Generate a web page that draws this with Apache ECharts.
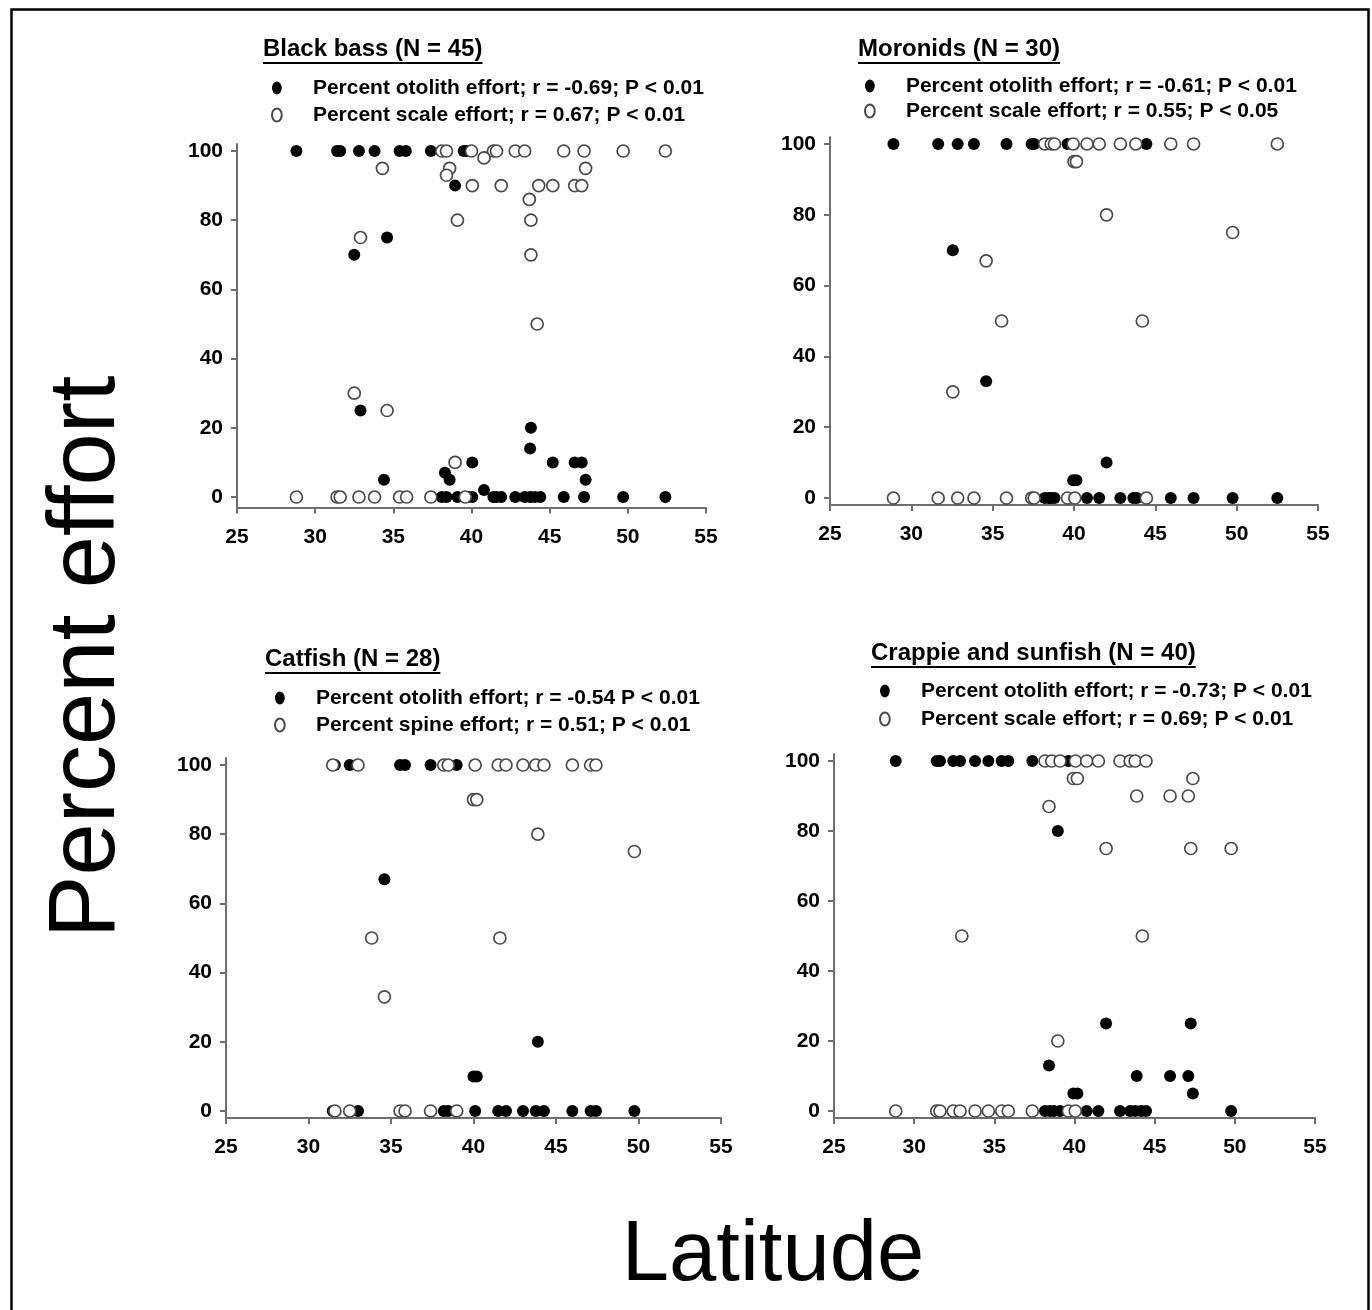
<!DOCTYPE html>
<html>
<head>
<meta charset="utf-8">
<script src="https://cdn.jsdelivr.net/npm/echarts@6/dist/echarts.min.js"></script>
<style>
html,body{margin:0;padding:0;background:#fff;}
#chart{width:1372px;height:1310px;}
</style>
</head>
<body>
<div id="chart"></div>
<script>
// ---------- DATA (latitude, percent effort) ----------
const yTickValues = [0, 20, 40, 60, 80, 100];

const bassTitle = 'Black bass (N = 45)';
const bassOtolithName = 'Percent otolith effort; r = -0.69; P < 0.01';
const bassScaleName = 'Percent scale effort; r = 0.67; P < 0.01';
const bassOtolith = [
  [28.8,100],[31.4,100],[31.6,100],[32.8,100],[33.8,100],[35.4,100],[35.8,100],[37.4,100],[39.5,100],[39.7,100],
  [38.95,90],[34.6,75],[32.5,70],[32.9,25],[43.8,20],[43.75,14],
  [40.05,10],[45.2,10],[46.6,10],[47.05,10],
  [38.3,7],[38.6,5],[34.4,5],[47.3,5],[40.8,2],
  [38.1,0],[38.4,0],[39.1,0],[39.8,0],[40.05,0],[41.4,0],[41.6,0],[41.9,0],[42.8,0],[43.4,0],[43.75,0],[44.05,0],[44.4,0],[45.9,0],[47.2,0],[49.7,0],[52.4,0]
];
const bassScale = [
  [38.1,100],[38.4,100],[40.0,100],[41.4,100],[41.6,100],[42.8,100],[43.4,100],[45.9,100],[47.2,100],[49.7,100],[52.4,100],
  [40.8,98],[34.3,95],[38.6,95],[47.3,95],[38.4,93],
  [40.05,90],[41.9,90],[44.3,90],[45.2,90],[46.6,90],[47.05,90],
  [43.7,86],[39.1,80],[43.8,80],[32.9,75],[43.8,70],[44.2,50],[32.5,30],[34.6,25],[38.95,10],
  [28.8,0],[31.4,0],[31.6,0],[32.8,0],[33.8,0],[35.4,0],[35.85,0],[37.4,0],[39.6,0]
];

const moronTitle = 'Moronids (N = 30)';
const moronOtolithName = 'Percent otolith effort; r = -0.61; P < 0.01';
const moronScaleName = 'Percent scale effort; r = 0.55; P < 0.05';
const moronOtolith = [
  [28.9,100],[31.65,100],[32.85,100],[33.85,100],[35.85,100],[37.4,100],[37.55,100],[39.6,100],[44.45,100],
  [32.55,70],[34.6,33],[42.0,10],[39.95,5],[40.15,5],
  [38.2,0],[38.45,0],[38.6,0],[38.8,0],[40.8,0],[41.55,0],[42.85,0],[43.65,0],[43.85,0],[45.95,0],[47.35,0],[49.75,0],[52.5,0]
];
const moronScale = [
  [38.2,100],[38.6,100],[38.8,100],[39.95,100],[40.8,100],[41.55,100],[42.85,100],[43.8,100],[45.95,100],[47.35,100],[52.5,100],
  [40.0,95],[40.15,95],[42.0,80],[49.75,75],[34.6,67],[35.55,50],[44.2,50],[32.55,30],
  [28.9,0],[31.65,0],[32.85,0],[33.85,0],[35.85,0],[37.4,0],[37.55,0],[39.6,0],[40.05,0],[44.45,0]
];

const catTitle = 'Catfish (N = 28)';
const catOtolithName = 'Percent otolith effort; r = -0.54 P < 0.01';
const catSpineName = 'Percent spine effort; r = 0.51; P < 0.01';
const catOtolith = [
  [31.6,100],[32.5,100],[35.55,100],[35.85,100],[37.4,100],[38.98,100],
  [34.6,67],[43.9,20],[40.0,10],[40.2,10],
  [31.47,0],[33.0,0],[38.2,0],[38.47,0],[40.1,0],[41.5,0],[41.97,0],[43.0,0],[43.77,0],[44.27,0],[45.99,0],[47.1,0],[47.42,0],[49.75,0]
];
const catSpine = [
  [31.47,100],[33.0,100],[38.2,100],[38.47,100],[40.1,100],[41.5,100],[41.97,100],[43.0,100],[43.77,100],[44.27,100],[45.99,100],[47.1,100],[47.42,100],
  [40.0,90],[40.2,90],[43.9,80],[49.75,75],[33.83,50],[41.6,50],[34.6,33],
  [31.6,0],[32.5,0],[35.55,0],[35.85,0],[37.4,0],[38.98,0]
];

const crapTitle = 'Crappie and sunfish (N = 40)';
const crapOtolithName = 'Percent otolith effort; r = -0.73; P < 0.01';
const crapScaleName = 'Percent scale effort; r = 0.69; P < 0.01';
const crapOtolith = [
  [28.85,100],[31.41,100],[31.61,100],[32.44,100],[32.86,100],[33.8,100],[34.63,100],[35.46,100],[35.87,100],[37.37,100],[39.62,100],
  [38.96,80],[41.97,25],[47.25,25],[38.41,13],[43.88,10],[45.96,10],[47.1,10],[39.93,5],[40.18,5],[47.38,5],
  [38.16,0],[38.47,0],[38.72,0],[39.1,0],[40.76,0],[41.49,0],[42.84,0],[43.47,0],[43.78,0],[44.15,0],[44.46,0],[49.77,0]
];
const crapScale = [
  [38.16,100],[38.58,100],[39.1,100],[40.06,100],[40.76,100],[41.49,100],[42.84,100],[43.47,100],[43.78,100],[44.46,100],
  [39.93,95],[40.18,95],[47.38,95],[43.88,90],[45.96,90],[47.1,90],[38.41,87],
  [41.97,75],[47.25,75],[49.77,75],[32.97,50],[44.23,50],[38.96,20],
  [28.85,0],[31.41,0],[31.61,0],[32.44,0],[32.86,0],[33.8,0],[34.63,0],[35.46,0],[35.87,0],[37.37,0],[39.62,0],[40.05,0]
];

// ---------- LAYOUT ----------
const FONT = '"Liberation Sans", Arial, sans-serif';
const panels = [
  {title: bassTitle, names: [bassOtolithName, bassScaleName], data: [bassOtolith, bassScale],
   grid: {left: 237, top: 144.1, width: 469, height: 363.3}, yMin: -3,
   titlePos: [263, 50], legendPos: [271, 77], legendGap: 5},
  {title: moronTitle, names: [moronOtolithName, moronScaleName], data: [moronOtolith, moronScale],
   grid: {left: 830, top: 136.9, width: 488, height: 368.2}, yMin: -2,
   titlePos: [858, 50], legendPos: [864, 75], legendGap: 3},
  {title: catTitle, names: [catOtolithName, catSpineName], data: [catOtolith, catSpine],
   grid: {left: 226, top: 758.1, width: 495, height: 359.8}, yMin: -2,
   titlePos: [265, 660], legendPos: [274, 687], legendGap: 5},
  {title: crapTitle, names: [crapOtolithName, crapScaleName], data: [crapOtolith, crapScale],
   grid: {left: 834, top: 754, width: 481, height: 364}, yMin: -2,
   titlePos: [871, 654], legendPos: [879, 680], legendGap: 6}
];

const axisColor = '#6e6e6e';
const labelStyle = {color: '#000', fontWeight: 'bold', fontSize: 21, fontFamily: FONT};
const openStyle = {color: '#fff', borderColor: '#4a4a4a', borderWidth: 1.7, opacity: 1};
const fillStyle = {color: '#000', opacity: 1};

const measure = document.createElement('canvas').getContext('2d');
function textWidth(t, font) { measure.font = font; return measure.measureText(t).width; }

const option = {
  backgroundColor: '#fff',
  animation: false,
  grid: [], xAxis: [], yAxis: [], series: [], legend: [], title: [], graphic: []
};

panels.forEach((p, i) => {
  option.grid.push(Object.assign({outerBoundsMode: 'none', containLabel: false}, p.grid));
  option.xAxis.push({
    type: 'value', gridIndex: i, min: 25, max: 55, interval: 5,
    axisLine: {onZero: false, lineStyle: {color: axisColor, width: 2}},
    axisTick: {length: 6, lineStyle: {color: axisColor, width: 2}},
    axisLabel: Object.assign({margin: 19}, labelStyle),
    splitLine: {show: false}
  });
  option.yAxis.push({
    type: 'value', gridIndex: i, min: p.yMin, max: 102,
    axisLine: {show: true, onZero: false, lineStyle: {color: axisColor, width: 2}},
    axisTick: {show: true, length: 6, customValues: yTickValues, lineStyle: {color: axisColor, width: 2}},
    axisLabel: Object.assign({margin: 14, customValues: yTickValues}, labelStyle),
    splitLine: {show: false}
  });
  option.series.push({
    type: 'scatter', name: p.names[0], xAxisIndex: i, yAxisIndex: i, data: p.data[0],
    symbol: 'circle', symbolSize: 12, itemStyle: fillStyle, z: 2,
    emphasis: {disabled: true}
  });
  option.series.push({
    type: 'scatter', name: p.names[1], xAxisIndex: i, yAxisIndex: i, data: p.data[1],
    symbol: 'circle', symbolSize: 12, itemStyle: openStyle, z: 3,
    emphasis: {disabled: true}
  });
  option.legend.push({
    data: p.names, orient: 'vertical', left: p.legendPos[0], top: p.legendPos[1],
    padding: 0, itemGap: p.legendGap, itemWidth: 10, itemHeight: 13,
    icon: 'path://M0,6a4.5,6 0 1,0 9,0a4.5,6 0 1,0 -9,0z',
    selectedMode: false,
    itemStyle: {opacity: 1},
    textStyle: {color: '#000', fontWeight: 'bold', fontSize: 21, fontFamily: FONT, lineHeight: 22, padding: [0, 0, 0, 26]}
  });
  const tFont = 'bold 24px ' + FONT;
  option.graphic.push({
    type: 'text', left: p.titlePos[0], top: p.titlePos[1] - 13,
    style: {text: p.title, font: tFont, fill: '#000'}
  });
  option.graphic.push({
    type: 'rect', left: p.titlePos[0], top: p.titlePos[1] + 12,
    shape: {x: 0, y: 0, width: textWidth(p.title, tFont), height: 2},
    style: {fill: '#000'}
  });
});

option.graphic.push({
  type: 'rect', left: 9, top: 7,
  shape: {x: 0, y: 0, width: 1357, height: 1302},
  style: {fill: 'none', stroke: '#000', lineWidth: 2.5}
});
option.graphic.push({
  type: 'text', x: 88, y: 657, rotation: Math.PI / 2,
  style: {text: 'Percent effort', font: '94px ' + FONT, fill: '#000', align: 'center', verticalAlign: 'middle'}
});
option.graphic.push({
  type: 'text', x: 773, y: 1257,
  style: {text: 'Latitude', font: '85px ' + FONT, fill: '#000', align: 'center', verticalAlign: 'middle'}
});

const chart = echarts.init(document.getElementById('chart'), null, {renderer: 'canvas'});
chart.setOption(option);
</script>
</body>
</html>
